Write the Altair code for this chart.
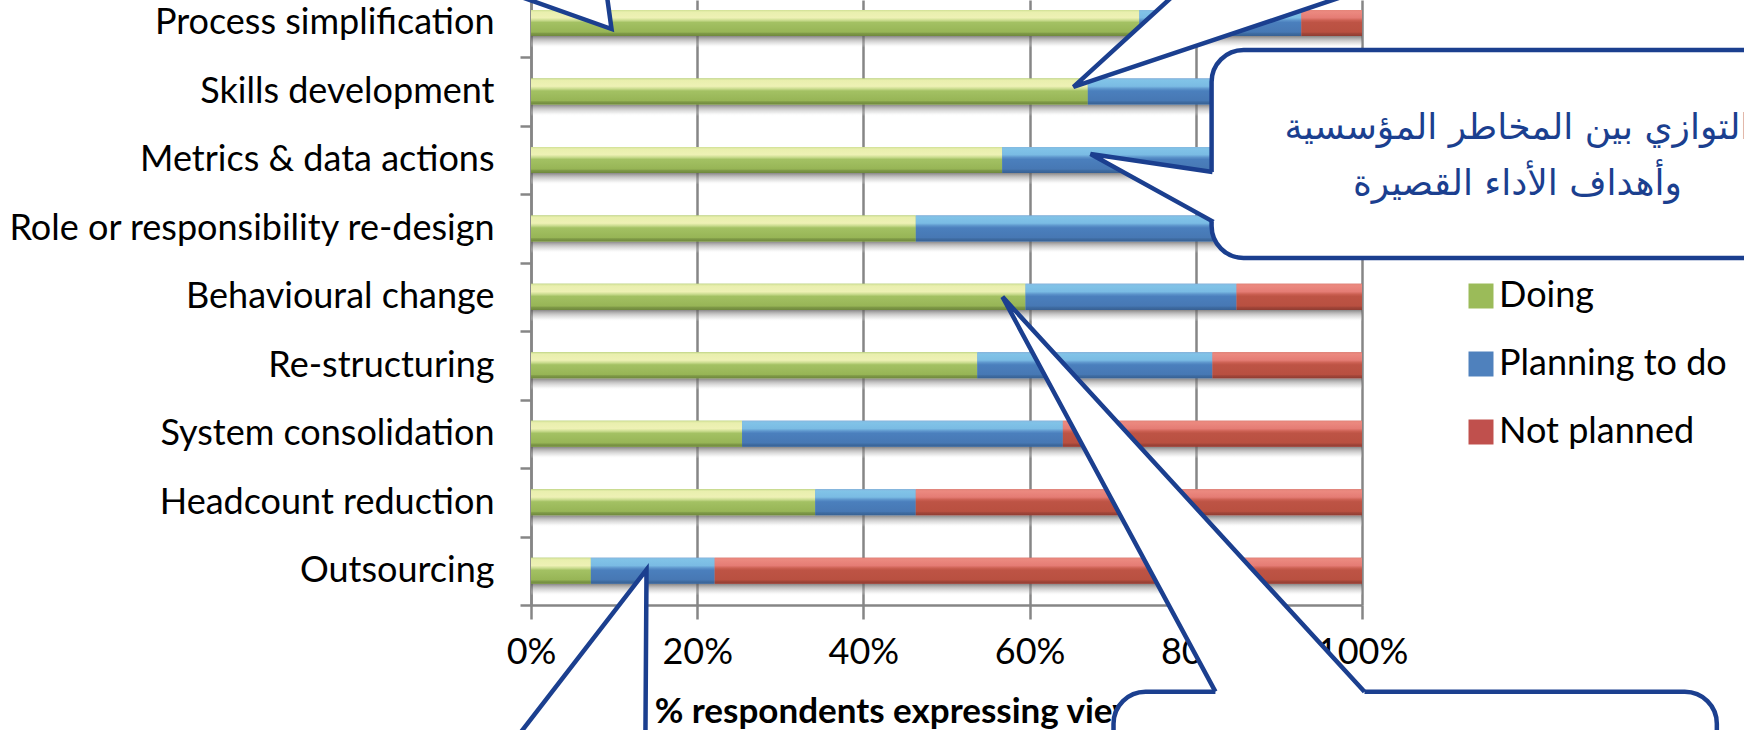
import json
import altair as alt
import pandas as pd

# ---------------- data ----------------
categories = [
    "Process simplification",
    "Skills development",
    "Metrics & data actions",
    "Role or responsibility re-design",
    "Behavioural change",
    "Re-structuring",
    "System consolidation",
    "Headcount reduction",
    "Outsourcing",
]
doing = [73.2, 67.0, 56.7, 46.3, 59.5, 53.7, 25.4, 34.2, 7.2]
planning = [19.5, 28.0, 33.3, 40.7, 25.4, 28.3, 38.6, 12.1, 14.9]
not_planned = [7.3, 5.0, 10.0, 13.0, 15.1, 18.0, 36.0, 53.7, 77.9]
series_names = ["Doing", "Planning to do", "Not planned"]
x_tick_values = [0, 20, 40, 60, 80, 100]
x_title = "% respondents expressing view"
callout_text = ["التوازي بين المخاطر المؤسسية", "وأهداف الأداء القصيرة"]

# callout geometry, in data units (x: % respondents, y: bar row index)
box_id = ["C", "D"]
box_x0 = [81.9, 70.1]
box_x1 = [158.7, 142.7]
box_y0 = [0.394, 9.766]
box_y1 = [3.431, 11.64]

hpointer_id = ["A", "A", "B", "B", "D", "D", "D", "E", "E"]
hpointer_r = [-0.482, 0.088, -0.482, 0.934, 4.0, 9.766, 9.85, 7.985, 10.76]
hpointer_xa = [-3.55, 9.69, 78.04, 65.28, 56.74, 82.36, 82.36, 13.9, -3.79]
hpointer_xb = [9.04, 9.69, 100.06, 65.28, 56.74, 100.3, 100.3, 13.9, 13.75]

vpointer_x = [67.33, 82.1, 82.8]
vpointer_r = [1.912, 2.175, 2.175]
vpointer_r2 = [1.912, 2.905, 2.905]

edge_id = ["A"] * 3 + ["B"] * 3 + ["C"] * 3 + ["D"] * 3 + ["E"] * 3
edge_x = [-3.55, 9.69, 9.04, 78.04, 65.28, 100.06, 82.01, 67.33, 82.13,
          82.36, 56.74, 100.3, -3.79, 13.9, 13.75]
edge_r = [-0.482, 0.088, -0.482, -0.482, 0.934, -0.482, 2.175, 1.912, 2.905,
          9.766, 4.0, 9.766, 10.76, 7.985, 10.76]

text_x = [118.7, 118.7]
text_r = [1.53, 2.35]

# ---------------- styles ----------------
FONT = "Lato"
AR_FONT = "DejaVu Sans"
GREY = "#868686"
NAVY = "#1B3F8F"
FLAT = ["#9BBB59", "#4F81BD", "#C0504D"]
BAR_HALF = 0.19
SHADOW = 0.17
STEP_PX = 68.5
Y_TOP = -23 / STEP_PX
Y_BOTTOM = len(categories) - 0.5

GRADS = {
    "Doing": [(0.0, "#cfdf94"), (0.08, "#e9efae"), (0.30, "#eef1b5"), (0.40, "#c9db8e"),
              (0.48, "#a3c163"), (0.85, "#97b556"), (0.90, "#7f9a47"), (1.0, "#6f883d")],
    "Planning to do": [(0.0, "#8bbfe4"), (0.08, "#86caec"), (0.30, "#7fc2e8"), (0.40, "#5d95cc"),
                       (0.48, "#4a7fbd"), (0.85, "#4677b3"), (0.90, "#3d6aa0"), (1.0, "#355d8e")],
    "Not planned": [(0.0, "#e98a7e"), (0.08, "#f08f85"), (0.30, "#e98179"), (0.40, "#cc6152"),
                    (0.48, "#bd5444"), (0.85, "#b8503f"), (0.90, "#a04537"), (1.0, "#8a3a2f")],
}


def grad(stops):
    return {"gradient": "linear", "x1": 0, "y1": 0, "x2": 0, "y2": 1,
            "stops": [{"offset": o, "color": c} for o, c in stops]}


# ---------------- tables ----------------
recs = []
for i, cat in enumerate(categories):
    start = 0.0
    for s, vals in zip(series_names, [doing, planning, not_planned]):
        recs.append({"cat": cat, "row": i, "series": s, "x0": start, "x1": start + vals[i]})
        start += vals[i]
bars_df = pd.DataFrame(recs)

shadow_df = pd.DataFrame({
    "row": list(range(len(categories))),
    "x0": [0.0] * len(categories),
    "x1": [d + p + n for d, p, n in zip(doing, planning, not_planned)],
})

boxes_df = pd.DataFrame({"id": box_id, "x0": box_x0, "x1": box_x1, "y0": box_y0, "y1": box_y1})
hp_df = pd.DataFrame({"id": hpointer_id, "r": hpointer_r, "xa": hpointer_xa, "xb": hpointer_xb})
vp_df = pd.DataFrame({"x": vpointer_x, "r": vpointer_r, "r2": vpointer_r2})
edges_df = pd.DataFrame({"id": edge_id, "k": list(range(len(edge_id))), "x": edge_x, "r": edge_r})
text_df = pd.DataFrame({"t": callout_text, "x": text_x, "r": text_r})

xs = alt.Scale(domain=[0, 100], nice=False, zero=False)
ys = alt.Scale(domain=[Y_TOP, Y_BOTTOM], reverse=True, nice=False, zero=False)

x_axis = alt.Axis(
    values=x_tick_values, labelExpr="datum.value + '%'", grid=True,
    gridColor=GREY, gridWidth=2.5, domainColor=GREY, domainWidth=2.5,
    tickColor=GREY, tickWidth=2.5, tickSize=14, labelFont=FONT, labelFontSize=36,
    labelColor="black", labelPadding=16, labelFlush=False, labelOverlap=False,
    title=x_title, titleFont=FONT, titleFontSize=35, titleFontWeight="bold",
    titleColor="black", titleX=366, titleY=117, titleBaseline="alphabetic",
    titleAlign="center",
)
y_axis = alt.Axis(
    values=[i + 0.5 for i in range(len(categories))],
    labelExpr=json.dumps(categories) + "[datum.value - 0.5]",
    labelOffset=-STEP_PX / 2, grid=False, tickSize=11, tickColor=GREY, tickWidth=2.5,
    domainColor=GREY, domainWidth=2.5, labelFont=FONT, labelFontSize=36,
    labelColor="black", labelPadding=26, labelOverlap=False, labelFlush=False,
    labelBound=False, labelLimit=0, title=None,
)


def X(field, **kw):
    return alt.X(field, scale=xs, axis=x_axis, **kw)


def Y(field, **kw):
    return alt.Y(field, scale=ys, axis=y_axis, **kw)


shadow = alt.Chart(shadow_df).transform_calculate(
    y0=f"datum.row + {BAR_HALF}", y1=f"datum.row + {BAR_HALF + SHADOW}"
).mark_rect(fill=grad([(0, "rgba(95,92,92,0.75)"), (0.35, "rgba(140,138,138,0.5)"),
                       (0.7, "rgba(200,200,200,0.35)"), (1, "rgba(255,255,255,0)")])).encode(
    x=X("x0:Q"), x2="x1:Q", y=Y("y0:Q"), y2="y1:Q",
)

base = alt.Chart(bars_df).transform_calculate(
    y0=f"datum.row - {BAR_HALF}", y1=f"datum.row + {BAR_HALF}"
).mark_rect().encode(
    x=X("x0:Q"), x2="x1:Q", y=Y("y0:Q"), y2="y1:Q",
    color=alt.Color("series:N", scale=alt.Scale(domain=series_names, range=FLAT),
                    legend=alt.Legend(title=None, orient="none", legendX=932, legendY=278,
                                      symbolType="square", symbolSize=625, symbolStrokeWidth=0,
                                      labelFont=FONT, labelFontSize=36, labelColor="black",
                                      labelOffset=0, rowPadding=32, padding=0, labelLimit=0,
                                      direction="vertical")),
)

overlays = []
for s in series_names:
    overlays.append(
        alt.Chart(bars_df).transform_filter(alt.datum.series == s).transform_calculate(
            y0=f"datum.row - {BAR_HALF}", y1=f"datum.row + {BAR_HALF}"
        ).mark_rect(fill=grad(GRADS[s]), opacity=1.0 if s == "Doing" else 0.9).encode(
            x=X("x0:Q"), x2="x1:Q", y=Y("y0:Q"), y2="y1:Q",
        )
    )

boxes = alt.Chart(boxes_df).mark_rect(fill="white", stroke=NAVY, strokeWidth=4.5,
                                      cornerRadius=32).encode(
    x=X("x0:Q"), x2="x1:Q", y=Y("y0:Q"), y2="y1:Q",
)

hfill = alt.Chart(hp_df).mark_area(orient="horizontal", fill="white", strokeWidth=0).encode(
    y=Y("r:Q"), x=X("xa:Q", stack=None), x2="xb:Q", detail="id:N",
)

vfill = alt.Chart(vp_df).mark_area(orient="vertical", fill="white", strokeWidth=0).encode(
    x=X("x:Q"), y=Y("r:Q", stack=None), y2="r2:Q",
)

edges = alt.Chart(edges_df).mark_line(color=NAVY, strokeWidth=4.5).encode(
    x=X("x:Q"), y=Y("r:Q"), detail="id:N", order="k:Q",
)

texts = alt.Chart(text_df).mark_text(font=AR_FONT, fontSize=36, color=NAVY,
                                     align="center", baseline="middle").encode(
    x=X("x:Q"), y=Y("r:Q"), text="t:N",
)

chart = alt.layer(shadow, base, *overlays, boxes, hfill, vfill, edges, texts).properties(
    width=831, height=605,
    autosize=alt.AutoSizeParams(type="none"),
    padding={"left": 531, "top": 0, "right": 382, "bottom": 125},
    background="white",
).configure_view(stroke=None)

chart.save("out.html", embed_options={"renderer": "svg", "actions": False})
